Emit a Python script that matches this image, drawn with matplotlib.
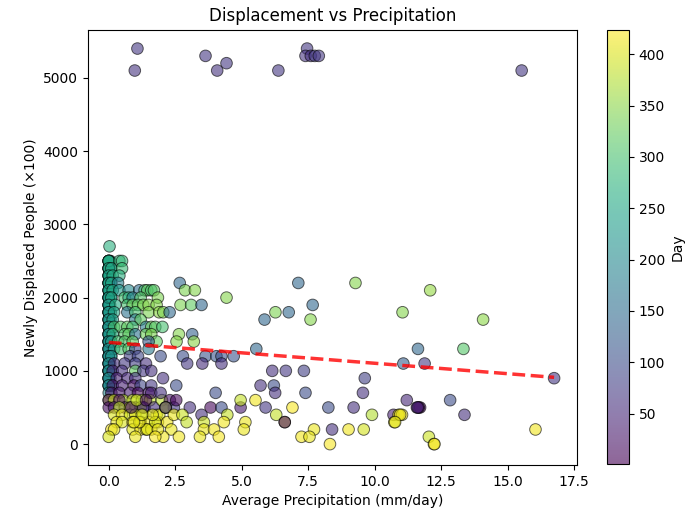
import numpy as np
import matplotlib.pyplot as plt

# points: precipitation (mm/day), displaced (x100), day index
# top outliers
precip_top = [1.08, 0.98, 3.64, 4.08, 4.43, 6.38, 7.46, 7.40, 7.60, 7.75, 7.90, 15.53]
displaced_top = [5400, 5100, 5300, 5100, 5200, 5100, 5400, 5300, 5300, 5300, 5300, 5100]
day_top = [70, 65, 70, 65, 70, 70, 70, 65, 60, 75, 70, 70]

# stacked column of dry days (precipitation ~ 0)
precip_zero = [0.0, 0.06, 0.0, 0.08, 0.0, 0.05, 0.0, 0.07, 0.0, 0.06,
               0.0, 0.08, 0.0, 0.05, 0.0, 0.07, 0.0, 0.06, 0.0, 0.08,
               0.0, 0.05, 0.0, 0.07, 0.0, 0.06, 0.0, 0.08, 0.0, 0.05,
               0.0, 0.07, 0.0, 0.06, 0.0, 0.08,
               0.0, 0.0, 0.0, 0.0, 0.0, 0.0, 0.0, 0.0, 0.0, 0.0,
               0.0, 0.0, 0.0, 0.0, 0.0, 0.0, 0.0, 0.0, 0.0, 0.0,
               0.0, 0.0, 0.0, 0.0, 0.0, 0.0, 0.0, 0.0, 0.0, 0.0,
               0.0, 0.0, 0.0, 0.0, 0.0, 0.0, 0.0, 0.0, 0.0, 0.0]
displaced_zero = [2500, 2500, 2400, 2400, 2300, 2300, 2200, 2200, 2100, 2100,
                  2000, 2000, 1900, 1900, 1800, 1800, 1700, 1700, 1600, 1600,
                  1500, 1500, 1400, 1400, 1300, 1300, 1200, 1200, 1100, 1100,
                  1000, 1000, 900, 900, 800, 800,
                  2500, 2400, 2300, 2200, 2100, 2000, 1900, 1800, 1700, 1600,
                  2500, 2400, 2300, 2200, 2100, 2000, 1900, 1800, 1700, 1600,
                  1500, 1400, 1300, 1200, 1100, 1000, 2400, 2200, 2000, 1800,
                  1500, 1300, 1100, 1000, 900, 1400, 1200, 1000, 900, 800]
day_zero = [265, 255, 262, 250, 258, 248, 255, 245, 252, 240,
            248, 238, 245, 236, 242, 232, 240, 230, 236, 228,
            234, 226, 230, 222, 228, 220, 224, 216, 220, 212,
            216, 208, 212, 204, 208, 200,
            262, 258, 254, 250, 246, 242, 238, 234, 230, 226,
            255, 251, 247, 243, 239, 235, 231, 227, 223, 219,
            215, 211, 207, 203, 199, 195, 260, 252, 244, 236,
            232, 224, 216, 210, 204, 226, 218, 212, 206, 200]

# dense block near zero precipitation
precip_left = [0.03,
               0.0, 0.0, 0.4, 0.5,
               0.0, 0.1, 0.5,
               0.0, 0.15, 0.4,
               0.0, 0.1, 0.35,
               0.0, 0.15, 0.4, 0.75, 1.15, 1.35, 1.45, 1.6, 1.7,
               0.0, 0.1, 0.6, 0.75, 0.9, 1.2, 1.85,
               0.0, 0.25, 0.7, 0.9, 1.1, 1.3, 1.5, 1.8,
               0.0, 0.2, 0.7, 1.0, 1.5, 1.9,
               0.0, 0.15, 1.0, 1.2,
               0.0, 0.2, 0.45, 0.7, 0.9, 1.4, 1.6, 1.75, 2.02,
               0.0, 0.15, 0.6, 0.75, 1.0, 1.4, 1.6,
               0.0, 0.1, 0.35, 0.6, 0.9, 1.8, 1.5,
               0.0, 0.2, 0.45, 0.75, 1.0, 1.5,
               0.0, 0.1, 0.8, 1.1, 1.95,
               0.0, 0.2, 0.6, 1.0, 1.4,
               0.0, 0.15, 0.5, 1.0, 1.3, 1.6,
               0.0, 0.3, 0.7, 1.0,
               0.0, 0.15, 0.5, 0.95, 1.2, 1.6,
               0.0, 0.1, 0.4, 0.8, 1.1, 1.5,
               0.0, 0.0, 0.2, 0.55, 0.9, 1.25, 0.4,
               0.0, 0.2, 0.6, 1.0, 1.35, 0.4, 0.8, 1.2,
               0.2, 0.5, 0.8, 1.0, 1.3, 1.8,
               0.3, 0.5, 0.9, 1.2, 1.5, 1.85,
               0.1, 0.2, 0.9, 1.2, 1.4, 1.6,
               0.0, 1.0]
displaced_left = [2700,
                  2500, 2500, 2500, 2500,
                  2400, 2400, 2400,
                  2300, 2300, 2300,
                  2200, 2200, 2200,
                  2100, 2100, 2100, 2100, 2100, 2100, 2100, 2100, 2100,
                  2000, 2000, 2000, 2000, 2000, 2000, 2000,
                  1900, 1900, 1900, 1900, 1900, 1900, 1900, 1900,
                  1800, 1800, 1800, 1800, 1800, 1800,
                  1700, 1700, 1700, 1700,
                  1600, 1600, 1600, 1600, 1600, 1600, 1600, 1600, 1600,
                  1500, 1500, 1500, 1500, 1500, 1500, 1500,
                  1400, 1400, 1400, 1400, 1400, 1400, 1400,
                  1300, 1300, 1300, 1300, 1300, 1300,
                  1200, 1200, 1200, 1200, 1200,
                  1100, 1100, 1100, 1100, 1100,
                  1000, 1000, 1000, 1000, 1000, 1000,
                  900, 900, 900, 900,
                  800, 800, 800, 800, 800, 800,
                  700, 700, 700, 700, 700, 700,
                  600, 600, 600, 600, 600, 600, 600,
                  500, 500, 500, 500, 500, 500, 500, 500,
                  400, 400, 400, 400, 400, 400,
                  300, 300, 300, 300, 300, 300,
                  200, 200, 200, 200, 200, 200,
                  100, 100]
day_left = [270,
            250, 260, 280, 285,
            250, 255, 290,
            245, 260, 270,
            240, 250, 185,
            240, 255, 230, 200, 150, 300, 320, 300, 315,
            235, 250, 300, 270, 180, 310, 340,
            230, 260, 300, 330, 320, 340, 345, 345,
            225, 250, 160, 300, 340, 350,
            225, 240, 170, 320,
            220, 300, 310, 320, 300, 180, 330, 310, 300,
            220, 270, 310, 320, 160, 330, 340,
            215, 230, 300, 310, 320, 320, 120,
            210, 230, 300, 310, 90, 170,
            210, 220, 80, 90, 100,
            205, 60, 70, 80, 60,
            205, 50, 60, 320, 70, 60,
            200, 40, 50, 60,
            200, 30, 40, 20, 90, 70,
            195, 20, 30, 40, 10, 30,
            380, 20, 390, 380, 385, 370, 10,
            15, 30, 20, 40, 60, 380, 390, 385,
            400, 410, 395, 405, 390, 410,
            410, 400, 415, 400, 410, 415,
            420, 410, 405, 415, 400, 410,
            400, 410]

# low rows hidden under the cluster, 1 to 2.5 mm/day
precip_low = [1.55, 1.70, 1.90, 2.20, 1.45, 2.35, 1.75, 2.00, 1.30, 1.60,
              2.30, 1.15, 0.85, 1.05, 2.05, 1.65, 1.95, 1.25, 2.15, 1.85,
              0.95, 2.45, 1.40, 1.75]
displaced_low = [600, 500, 400, 300, 200, 200, 300, 600, 500, 700,
                 600, 300, 500, 600, 100, 400, 700, 400, 500, 200,
                 300, 500, 600, 100]
day_low = [385, 60, 400, 415, 405, 410, 395, 380, 50, 40,
           20, 410, 30, 390, 415, 405, 60, 400, 385, 410,
           405, 70, 15, 420]

# middle band, 2 to 6 mm/day
precip_mid = [2.67, 2.87, 3.24, 4.43, 2.70, 3.10, 3.49, 2.05, 2.29, 5.86,
              2.64, 3.14, 2.55, 3.20, 5.55, 2.79, 3.64, 4.05, 4.24, 4.70,
              2.95, 3.52, 4.24, 2.04, 5.71, 2.54, 4.02, 2.54, 3.83, 3.05,
              4.24, 4.96, 4.96, 5.52, 5.90, 2.14, 2.14, 2.45, 2.77, 2.93,
              3.49, 4.46, 3.58, 4.33, 5.14, 3.58, 3.96, 5.08, 2.64, 3.43, 4.14]
displaced_mid = [2200, 2100, 2100, 2000, 1900, 1900, 1900, 1800, 1800, 1700,
                 1500, 1500, 1400, 1400, 1300, 1200, 1200, 1200, 1200, 1200,
                 1100, 1100, 1100, 900, 800, 800, 700, 600, 500, 500,
                 500, 500, 600, 600, 500, 500, 500, 400, 400, 300,
                 400, 400, 300, 300, 300, 200, 200, 200, 100, 100, 100]
day_mid = [140, 340, 345, 345, 340, 320, 140, 340, 145, 140,
           345, 130, 345, 350, 140, 100, 110, 115, 105, 110,
           70, 55, 60, 60, 60, 100, 100, 10, 10, 60,
           100, 30, 385, 415, 70, 390, 60, 410, 390, 385,
           60, 385, 390, 415, 410, 410, 415, 410, 415, 410, 420]

# sparse right side (a few overlapping pairs)
precip_right = [7.13, 9.28, 12.09, 6.27, 6.77, 7.67, 7.59, 11.05, 14.08, 11.63,
                13.34, 11.08, 11.88, 16.75, 6.15, 6.66, 7.34, 9.63, 6.21, 6.26,
                7.40, 9.56, 11.21, 12.84, 8.26, 9.21, 11.59, 11.71, 10.71, 13.38,
                6.91, 6.30, 9.90, 10.90, 11.03, 10.74, 6.62, 6.62, 7.72, 8.40,
                9.02, 9.59, 16.05, 7.25, 7.55, 12.04, 8.32, 12.23,
                11.66, 10.96, 10.77, 11.62, 12.25]
displaced_right = [2200, 2200, 2100, 1800, 1800, 1900, 1700, 1800, 1700, 1300,
                   1300, 1100, 1100, 900, 1000, 1000, 1000, 900, 800, 700,
                   700, 700, 600, 600, 500, 500, 500, 500, 400, 400,
                   500, 400, 400, 400, 400, 300, 300, 300, 200, 200,
                   200, 200, 200, 100, 100, 100, 0, 0,
                   500, 400, 300, 500, 0]
day_right = [140, 345, 355, 340, 140, 140, 345, 345, 350, 140,
             310, 125, 75, 70, 60, 70, 80, 80, 100, 60,
             100, 60, 50, 100, 100, 60, 50, 10, 40, 60,
             420, 385, 375, 410, 415, 410, 400, 20, 410, 60,
             415, 395, 415, 415, 410, 390, 420, 415,
             15, 410, 405, 45, 415]

x = np.array(precip_top + precip_zero + precip_left + precip_low + precip_mid + precip_right)
y = np.array(displaced_top + displaced_zero + displaced_left + displaced_low + displaced_mid + displaced_right)
d = np.array(day_top + day_zero + day_left + day_low + day_mid + day_right)

fig = plt.figure(figsize=(6.89, 5.15), dpi=100)
ax = fig.add_axes([0.1277, 0.0971, 0.7097, 0.8456])
cax = fig.add_axes([0.881, 0.0991, 0.0319, 0.8436])

sc = ax.scatter(x, y, c=d, cmap='viridis', vmin=1, vmax=424, s=70, alpha=0.6,
                edgecolors='k', linewidths=0.7)

# linear trend
coef = np.polyfit(x, y, 1)
xs = np.linspace(x.min(), x.max(), 50)
ax.plot(xs, np.polyval(coef, xs), 'r--', linewidth=2.5, alpha=0.8)

ax.set_xlim(-0.78, 17.61)
ax.set_ylim(-285, 5660)
ax.set_title('Displacement vs Precipitation', fontsize=12)
ax.set_xlabel('Average Precipitation (mm/day)')
ax.set_ylabel('Newly Displaced People (×100)')

cb = fig.colorbar(sc, cax=cax)
cb.set_label('Day')

fig.savefig('out.png', dpi=100)
print(coef)
